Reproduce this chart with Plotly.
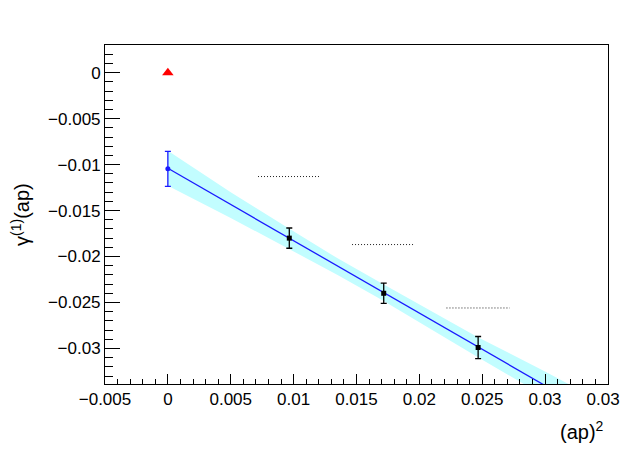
import plotly.graph_objects as go

# values
pts_x = [0.00966, 0.01717, 0.02468]
pts_y = [-0.0180, -0.0240, -0.0299]
pts_err = [0.0011, 0.0011, 0.0012]

extrap_x = [0.0]
extrap_y = [-0.01046]
extrap_err = [0.0019]

ref_x = [0.0]
ref_y = [0.0]

fit_x = [0.0, 0.033]
fit_y = [-0.0104, -0.0364]

band_x = [0.0, 0.005, 0.0097, 0.0135, 0.017, 0.021, 0.0247, 0.030, 0.033]
band_hi = [-0.0085, -0.0130, -0.0170, -0.0202, -0.0229, -0.0260, -0.0288, -0.0325, -0.0347]
band_lo = [-0.0123, -0.0158, -0.0192, -0.0220, -0.0247, -0.0280, -0.0310, -0.0352, -0.0377]

seg_x0 = [0.00717, 0.01465, 0.02216]
seg_x1 = [0.01218, 0.01964, 0.02720]
seg_y = [-0.0113, -0.0187, -0.0256]

FONT = "Liberation Sans, Arial, sans-serif"

fig = go.Figure()

# error band of the fit
fig.add_trace(go.Scatter(
    x=band_x + band_x[::-1],
    y=band_hi + band_lo[::-1],
    fill="toself",
    fillcolor="#c2fdff",
    line=dict(width=0),
    mode="lines",
    hoverinfo="skip",
    showlegend=False,
))

fig.add_trace(go.Scatter(
    x=fit_x, y=fit_y, mode="lines",
    line=dict(color="#1a1aff", width=1.3),
    showlegend=False,
))

# dotted horizontal segments
for x0, x1, y in zip(seg_x0, seg_x1, seg_y):
    fig.add_trace(go.Scatter(
        x=[x0, x1], y=[y, y], mode="lines",
        line=dict(color="#222222", width=1, dash="1px,2px"),
        showlegend=False,
    ))

fig.add_trace(go.Scatter(
    x=pts_x, y=pts_y, mode="markers",
    marker=dict(color="black", size=5, symbol="square"),
    error_y=dict(type="data", array=pts_err, color="black", thickness=1.3, width=3),
    showlegend=False,
))

fig.add_trace(go.Scatter(
    x=extrap_x, y=extrap_y, mode="markers",
    marker=dict(color="#1a1aff", size=5),
    error_y=dict(type="data", array=extrap_err, color="#1a1aff", thickness=1.3, width=3),
    showlegend=False,
))

fig.add_trace(go.Scatter(
    x=ref_x, y=ref_y, mode="markers",
    marker=dict(color="#ff0000", size=10, symbol="triangle-up"),
    showlegend=False,
))

# page body has an 8px margin, so the canvas is a bit smaller than the window
fig.update_layout(
    width=620, height=452,
    margin=dict(l=97, r=20, t=37, b=76),
    paper_bgcolor="white", plot_bgcolor="white",
    font=dict(family=FONT, size=17, color="black"),
    annotations=[
        dict(text="(ap)<sup>2</sup>", xref="paper", yref="paper",
             x=0.997, y=-0.138, xanchor="right", yanchor="middle",
             showarrow=False, font=dict(size=20)),
        dict(text="γ<sup>(1)</sup>(ap)", xref="paper", yref="paper",
             x=-0.168, y=0.5, xanchor="center", yanchor="middle",
             textangle=-90, showarrow=False, font=dict(size=20)),
    ],
)

fig.update_xaxes(
    range=[-0.005, 0.03501], dtick=0.005, tick0=0,
    showgrid=False, zeroline=False, automargin=False,
    showline=True, linecolor="black", linewidth=1, mirror=True,
    ticks="inside", ticklen=10, tickcolor="black",
    ticklabeloverflow="allow",
    minor=dict(dtick=0.001, ticks="inside", ticklen=5, tickcolor="black", showgrid=False),
)
fig.update_yaxes(
    range=[-0.03387, 0.00301], dtick=0.005, tick0=0,
    showgrid=False, zeroline=False, automargin=False,
    showline=True, linecolor="black", linewidth=1, mirror=True,
    ticks="inside", ticklen=15, tickcolor="black",
    minor=dict(dtick=0.001, ticks="inside", ticklen=8, tickcolor="black", showgrid=False),
)

fig.write_html("out.html")
